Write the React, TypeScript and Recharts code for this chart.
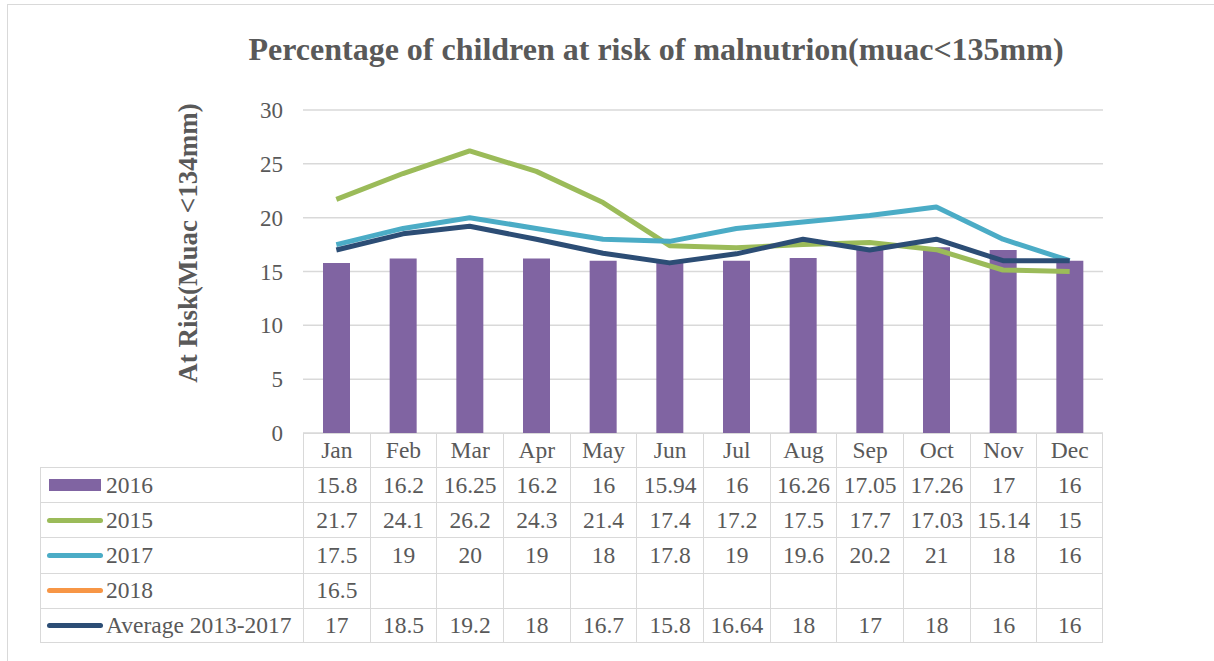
import React from 'react';
import { ComposedChart, Bar, Line, XAxis, YAxis, CartesianGrid } from 'recharts';

const months = ['Jan', 'Feb', 'Mar', 'Apr', 'May', 'Jun', 'Jul', 'Aug', 'Sep', 'Oct', 'Nov', 'Dec'];
const values2016 = [15.8, 16.2, 16.25, 16.2, 16, 15.94, 16, 16.26, 17.05, 17.26, 17, 16];
const values2015 = [21.7, 24.1, 26.2, 24.3, 21.4, 17.4, 17.2, 17.5, 17.7, 17.03, 15.14, 15];
const values2017 = [17.5, 19, 20, 19, 18, 17.8, 19, 19.6, 20.2, 21, 18, 16];
const values2018: (number | null)[] = [16.5, null, null, null, null, null, null, null, null, null, null, null];
const valuesAvg = [17, 18.5, 19.2, 18, 16.7, 15.8, 16.64, 18, 17, 18, 16, 16];
const yTicks = [0, 5, 10, 15, 20, 25, 30];

const series = [
  { key: 's2016', name: '2016', color: '#8064A2', kind: 'bar', values: values2016 },
  { key: 's2015', name: '2015', color: '#9BBB59', kind: 'line', values: values2015 },
  { key: 's2017', name: '2017', color: '#4BACC6', kind: 'line', values: values2017 },
  { key: 's2018', name: '2018', color: '#F79646', kind: 'line', values: values2018 },
  { key: 'sAvg', name: 'Average 2013-2017', color: '#2C4D75', kind: 'line', values: valuesAvg },
];

const data = months.map((month, i) => {
  const row: Record<string, string | number | null> = { month };
  series.forEach((s) => {
    row[s.key] = s.values[i];
  });
  return row;
});

// layout
const W = 1214;
const H = 661;
const plotLeft = 303;
const plotRight = 1103;
const plotTop = 110;
const plotBottom = 433;
const yAxisWidth = 60;
const colW = (plotRight - plotLeft) / months.length;
const headerH = 34;
const rowH = 35.2;
const legendLeft = 40;
const textColor = '#595959';
const borderColor = '#D9D9D9';
const font = '"Liberation Serif"';

const cellBase: React.CSSProperties = {
  position: 'absolute',
  boxSizing: 'border-box',
  display: 'flex',
  alignItems: 'center',
  justifyContent: 'center',
  fontFamily: font,
  fontSize: 23.5,
  color: textColor,
  whiteSpace: 'nowrap',
};

const fmt = (v: number | null) => (v === null ? '' : String(v));

const DataTable: React.FC = () => {
  const cells: React.ReactNode[] = [];
  months.forEach((m, i) => {
    cells.push(
      <div
        key={`h${i}`}
        style={{
          ...cellBase,
          left: plotLeft + i * colW,
          top: plotBottom,
          width: colW,
          height: headerH,
          borderLeft: `1.5px solid ${borderColor}`,
          borderRight: i === months.length - 1 ? `1.5px solid ${borderColor}` : undefined,
          borderTop: `1.5px solid ${borderColor}`,
        }}
      >
        {m}
      </div>
    );
  });
  series.forEach((s, r) => {
    const top = plotBottom + headerH + r * rowH;
    cells.push(
      <div
        key={`l${r}`}
        style={{
          ...cellBase,
          justifyContent: 'flex-start',
          left: legendLeft,
          top,
          width: plotLeft - legendLeft,
          height: rowH,
          borderLeft: `1.5px solid ${borderColor}`,
          borderTop: `1.5px solid ${borderColor}`,
          borderBottom: r === series.length - 1 ? `1.5px solid ${borderColor}` : undefined,
        }}
      >
        {s.kind === 'bar' ? (
          <span style={{ display: 'inline-block', width: 52, height: 12, background: s.color, marginLeft: 8, marginRight: 5 }} />
        ) : (
          <span style={{ display: 'inline-block', width: 56, height: 5, borderRadius: 3, background: s.color, marginLeft: 6, marginRight: 3 }} />
        )}
        {s.name}
      </div>
    );
    s.values.forEach((v, i) => {
      cells.push(
        <div
          key={`c${r}-${i}`}
          style={{
            ...cellBase,
            left: plotLeft + i * colW,
            top,
            width: colW,
            height: rowH,
            borderLeft: `1.5px solid ${borderColor}`,
            borderRight: i === months.length - 1 ? `1.5px solid ${borderColor}` : undefined,
            borderTop: `1.5px solid ${borderColor}`,
            borderBottom: r === series.length - 1 ? `1.5px solid ${borderColor}` : undefined,
          }}
        >
          {fmt(v)}
        </div>
      );
    });
  });
  return <>{cells}</>;
};

export default function App() {
  return (
    <div style={{ position: 'absolute', left: 0, top: 0, width: W, height: H, background: '#fff', overflow: 'hidden' }}>
      <div
        style={{
          position: 'absolute',
          left: 7,
          top: 4,
          width: W,
          height: H,
          border: `1.5px solid ${borderColor}`,
          boxSizing: 'border-box',
        }}
      />
      <ComposedChart
        width={W}
        height={H}
        data={data}
        margin={{ top: plotTop, right: W - plotRight, bottom: H - plotBottom, left: plotLeft - yAxisWidth }}
        barSize={27}
      >
        <CartesianGrid horizontal vertical={false} stroke={borderColor} strokeWidth={1.5} />
        <XAxis dataKey="month" hide />
        <YAxis
          width={yAxisWidth}
          domain={[0, 30]}
          ticks={yTicks}
          axisLine={false}
          tickLine={false}
          tickSize={0}
          tickMargin={20}
          tick={{ fill: textColor, fontSize: 23, fontFamily: font }}
        />
        {series
          .filter((s) => s.kind === 'bar')
          .map((s) => (
            <Bar key={s.key} dataKey={s.key} name={s.name} fill={s.color} isAnimationActive={false} />
          ))}
        {series
          .filter((s) => s.kind === 'line')
          .map((s) => (
            <Line
              key={s.key}
              type="linear"
              dataKey={s.key}
              name={s.name}
              stroke={s.color}
              strokeWidth={5}
              strokeLinejoin="round"
              dot={false}
              activeDot={false}
              isAnimationActive={false}
            />
          ))}
      </ComposedChart>
      <div
        style={{
          position: 'absolute',
          left: 656 - 500,
          top: 33,
          width: 1000,
          lineHeight: 1,
          textAlign: 'center',
          fontFamily: font,
          fontWeight: 'bold',
          fontSize: 32,
          color: textColor,
        }}
      >
        Percentage of children at risk of malnutrion(muac&lt;135mm)
      </div>
      <div
        style={{
          position: 'absolute',
          left: 188 - 200,
          top: 243 - 14,
          width: 400,
          height: 28,
          lineHeight: '28px',
          textAlign: 'center',
          transform: 'rotate(-90deg)',
          fontFamily: font,
          fontWeight: 'bold',
          fontSize: 27,
          color: textColor,
        }}
      >
        At Risk(Muac &lt;134mm)
      </div>
      <DataTable />
    </div>
  );
}
